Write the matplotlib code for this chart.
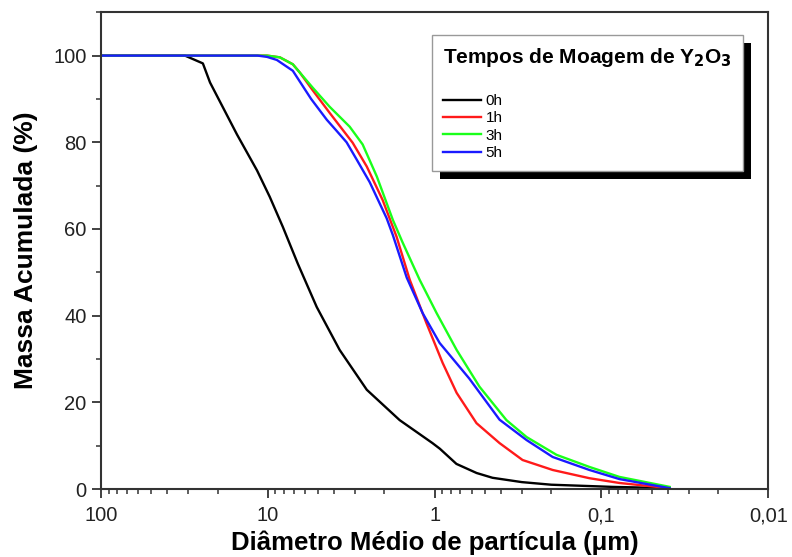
import matplotlib
matplotlib.use('Agg')
import matplotlib.pyplot as plt
from matplotlib.ticker import FixedLocator, FixedFormatter, MultipleLocator, LogLocator
from matplotlib.patches import Rectangle
from matplotlib.transforms import IdentityTransform

plt.rcParams['font.family'] = ['Liberation Sans', 'DejaVu Sans']

# particle size distribution of Y2O3 for each milling time
x_0h = [100, 31.4, 24.5, 22.2, 15.3, 11.6, 9.73, 8.13, 6.61, 5.09, 3.71, 2.55,
        1.62, 1.03, 0.93, 0.74, 0.56, 0.45, 0.30, 0.20, 0.086, 0.039]
y_0h = [100, 100, 98.2, 93.8, 81.8, 73.5, 67.4, 60.5, 52.0, 42.0, 32.1, 22.9,
        15.9, 10.6, 9.3, 5.8, 3.7, 2.6, 1.6, 1.0, 0.5, 0.2]

x_1h = [100, 10.1, 8.47, 7.08, 6.43, 5.38, 4.26, 3.10, 2.55, 2.05, 1.69, 1.41, 1.12,
        0.895, 0.738, 0.561, 0.408, 0.297, 0.196, 0.118, 0.078, 0.039]
y_1h = [100, 100, 99.6, 98.0, 96.1, 92.0, 86.8, 79.9, 74.4, 66.7, 58.2, 48.3, 38.3,
        29.1, 22.2, 15.2, 10.6, 6.7, 4.4, 2.5, 1.4, 0.2]

x_3h = [100, 10.1, 8.47, 7.08, 6.43, 5.38, 4.26, 3.23, 2.70, 2.22, 1.78, 1.56, 1.23,
        0.973, 0.738, 0.538, 0.371, 0.281, 0.186, 0.118, 0.078, 0.039]
y_3h = [100, 100, 99.6, 98.0, 96.1, 92.6, 88.2, 83.6, 79.5, 72.1, 62.1, 57.0, 48.3,
        40.6, 32.1, 23.6, 15.9, 12.0, 7.9, 5.1, 2.8, 0.5]

x_5h = [100, 11.5, 10.1, 8.83, 7.08, 5.5, 4.43, 3.86, 3.37, 2.93, 2.45, 1.94, 1.78,
        1.47, 1.18, 0.933, 0.62, 0.408, 0.281, 0.196, 0.118, 0.078, 0.039]
y_5h = [100, 100, 99.7, 99.0, 96.5, 90.0, 85.2, 82.6, 80.0, 76.0, 70.8, 62.5, 58.6,
        48.8, 40.6, 33.7, 25.5, 16.0, 11.3, 7.4, 4.4, 2.3, 0.2]

series = [('0h', x_0h, y_0h, 'black'),
          ('1h', x_1h, y_1h, '#ff1a1a'),
          ('3h', x_3h, y_3h, '#1aff1a'),
          ('5h', x_5h, y_5h, '#1a1aff')]

xticks = [100, 10, 1, 0.1, 0.01]
xticklabels = ['100', '10', '1', '0,1', '0,01']

fig = plt.figure(figsize=(7.92, 5.57), dpi=100)
ax = fig.add_axes([0.1275, 0.122, 0.8425, 0.856])

for name, xs, ys, c in series:
    ax.plot(xs, ys, color=c, lw=1.7, label=name)

ax.set_xscale('log')
ax.set_xlim(100, 0.01)
ax.set_ylim(0, 110)

ax.xaxis.set_major_locator(FixedLocator(xticks))
ax.xaxis.set_major_formatter(FixedFormatter(xticklabels))
ax.xaxis.set_minor_locator(LogLocator(base=10, subs=range(2, 10), numticks=20))
ax.xaxis.set_minor_formatter(FixedFormatter([]))
ax.yaxis.set_major_locator(MultipleLocator(20))
ax.yaxis.set_minor_locator(MultipleLocator(10))
ax.set_yticks([0, 20, 40, 60, 80, 100])

ax.tick_params(which='major', direction='out', length=6.5, width=1.3, labelsize=14.5,
               colors='#333333', labelcolor='#222222', pad=4)
ax.tick_params(axis='x', which='major', pad=6)
ax.tick_params(which='minor', direction='out', length=3.5, width=1.1, colors='#333333')
for s in ax.spines.values():
    s.set_linewidth(1.5)
    s.set_color('#333333')

ax.set_xlabel('Diâmetro Médio de partícula (μm)', fontsize=18.5, fontweight='bold', labelpad=4)
ax.set_ylabel('Massa Acumulada (%)', fontsize=19, fontweight='bold', labelpad=11)

leg = ax.legend(title='Tempos de Moagem de Y$_\\mathbf{2}$O$_\\mathbf{3}$',
                loc='upper left', bbox_to_anchor=(0.4963, 0.9518),
                alignment='left', fontsize=11, title_fontsize=15,
                handlelength=2.5, handletextpad=0.3, labelspacing=0.22,
                borderpad=0.7, borderaxespad=0, fancybox=False, framealpha=1,
                edgecolor='#999999')
leg.get_title().set_fontweight('bold')
leg._legend_box.sep = 18
leg.get_frame().set_linewidth(1.0)

fig.canvas.draw()
bb = leg.get_window_extent()
shadow = Rectangle((bb.x0 + 8, bb.y0 - 8), bb.width, bb.height, transform=IdentityTransform(),
                   facecolor='black', edgecolor='none', zorder=4)
ax.add_artist(shadow)
shadow.set_clip_on(False)

fig.savefig('out.png', dpi=100)
